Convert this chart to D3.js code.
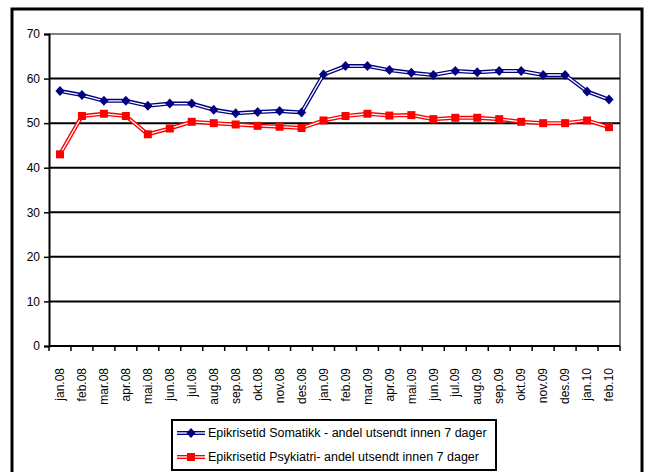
<!DOCTYPE html>
<meta charset="utf-8">
<html>
<style>
  body { margin: 0; background: #fff; }
  text { font-family: "Liberation Sans", Arial, sans-serif; fill: #000; }
</style>
<body>
<div id="chart"></div>
<script src="https://d3js.org/d3.v7.min.js"></script>
<script>
// months on the x axis
const months = ["jan.08","feb.08","mar.08","apr.08","mai.08","jun.08","jul.08","aug.08","sep.08","okt.08","nov.08","des.08",
  "jan.09","feb.09","mar.09","apr.09","mai.09","jun.09","jul.09","aug.09","sep.09","okt.09","nov.09","des.09","jan.10","feb.10"];
const somatikk = [57.2,56.3,55.0,55.0,53.9,54.4,54.4,53.0,52.2,52.5,52.7,52.4,60.9,62.8,62.8,61.9,61.3,60.8,61.7,61.4,61.7,61.7,60.8,60.8,57.1,55.3];
const psykiatri = [43.0,51.6,52.1,51.6,47.5,48.8,50.3,50.0,49.7,49.4,49.2,48.9,50.6,51.6,52.1,51.7,51.8,50.9,51.2,51.2,50.9,50.3,50.0,50.0,50.6,49.1];
const yTicks = [0,10,20,30,40,50,60,70];
const seriesNames = ["Epikrisetid Somatikk - andel utsendt innen 7 dager","Epikrisetid Psykiatri- andel utsendt innen 7 dager"];

const W = 647, H = 472;
const plot = {left: 49, top: 34, right: 620, bottom: 346};

const svg = d3.select("#chart").append("svg")
  .attr("width", W).attr("height", H);

// outer frame
svg.append("rect")
  .attr("x", 12).attr("y", 9).attr("width", 630).attr("height", 470)
  .attr("fill", "none").attr("stroke", "#000").attr("stroke-width", 3);

var x = d3.scaleBand().domain(months).range([plot.left, plot.right]);
var y = d3.scaleLinear().domain([0,70]).range([plot.bottom, plot.top]);

// plot area border (top/right grey)
svg.append("path")
  .attr("d", `M${plot.left},${plot.top}H${plot.right}V${plot.bottom}`)
  .attr("fill", "none").attr("stroke", "#808080").attr("stroke-width", 2);

// gridlines
svg.append("g").selectAll("line")
  .data(yTicks.filter(d => d > 0 && d < 70))
  .enter().append("line")
  .attr("x1", plot.left).attr("x2", plot.right)
  .attr("y1", d => y(d)).attr("y2", d => y(d))
  .attr("stroke", "#000").attr("stroke-width", 2);

// y axis
var yAxis = svg.append("g")
  .attr("transform", `translate(${plot.left},0)`)
  .call(d3.axisLeft(y).tickValues(yTicks).tickSize(5).tickPadding(4));
yAxis.select(".domain").attr("stroke-width", 2);
yAxis.selectAll(".tick line").attr("stroke-width", 1.5);
yAxis.selectAll("text").style("font-size", "12px").attr("font-family", null);

// x axis
var xAxis = svg.append("g")
  .attr("transform", `translate(0,${plot.bottom})`)
  .call(d3.axisBottom(x).tickSize(0).tickPadding(0));
xAxis.select(".domain").attr("stroke-width", 2).attr("d", `M${plot.left},0H${plot.right}`);
xAxis.selectAll(".tick text")
  .attr("transform", "rotate(-90)")
  .attr("x", -22).attr("y", 0).attr("dy", "0.35em")
  .style("text-anchor", "end").style("font-size", "12px").attr("font-family", null);
// tick marks between categories
svg.append("g").selectAll("line")
  .data(months.concat(["end"]))
  .enter().append("line")
  .attr("x1", (d,i) => plot.left + i*x.bandwidth())
  .attr("x2", (d,i) => plot.left + i*x.bandwidth())
  .attr("y1", plot.bottom).attr("y2", plot.bottom + 5)
  .attr("stroke", "#000").attr("stroke-width", 1.5);

var line = d3.line()
  .x((d,i) => x(months[i]) + x.bandwidth()/2)
  .y(d => y(d));

// marker shapes: wide diamond and square
var diamond = "M0,-5L4.6,0L0,5L-4.6,0Z";
var square = "M-4,-4H4V4H-4Z";

function drawSeries(data, color, shape) {
  var g = svg.append("g");
  g.append("path").attr("d", line(data)).attr("fill", "none")
    .attr("stroke", color).attr("stroke-width", 4);
  g.append("path").attr("d", line(data)).attr("fill", "none")
    .attr("stroke", "#fff").attr("stroke-width", 1.3);
  g.selectAll("path.m").data(data).enter().append("path")
    .attr("class", "m")
    .attr("d", shape)
    .attr("transform", (d,i) => `translate(${x(months[i]) + x.bandwidth()/2},${y(d)})`)
    .attr("fill", color);
}
drawSeries(somatikk, "#000080", diamond);
drawSeries(psykiatri, "#ff0000", square);

// legend
var lg = svg.append("g");
lg.append("rect")
  .attr("x", 172).attr("y", 420).attr("width", 324).attr("height", 50)
  .attr("fill", "#fff").attr("stroke", "#000").attr("stroke-width", 2);
var legendItems = [
  {name: seriesNames[0], color: "#000080", shape: diamond},
  {name: seriesNames[1], color: "#ff0000", shape: square}
];
legendItems.forEach(function(it, i) {
  var cy = 433 + i*24;
  lg.append("line").attr("x1", 177).attr("x2", 205).attr("y1", cy).attr("y2", cy)
    .attr("stroke", it.color).attr("stroke-width", 4);
  lg.append("line").attr("x1", 177).attr("x2", 205).attr("y1", cy).attr("y2", cy)
    .attr("stroke", "#fff").attr("stroke-width", 1.3);
  lg.append("path").attr("d", it.shape)
    .attr("transform", `translate(191,${cy})`).attr("fill", it.color);
  lg.append("text").attr("x", 208).attr("y", cy).attr("dy", "0.35em")
    .style("font-size", "12.5px").text(it.name);
});
</script>
</body>
</html>
